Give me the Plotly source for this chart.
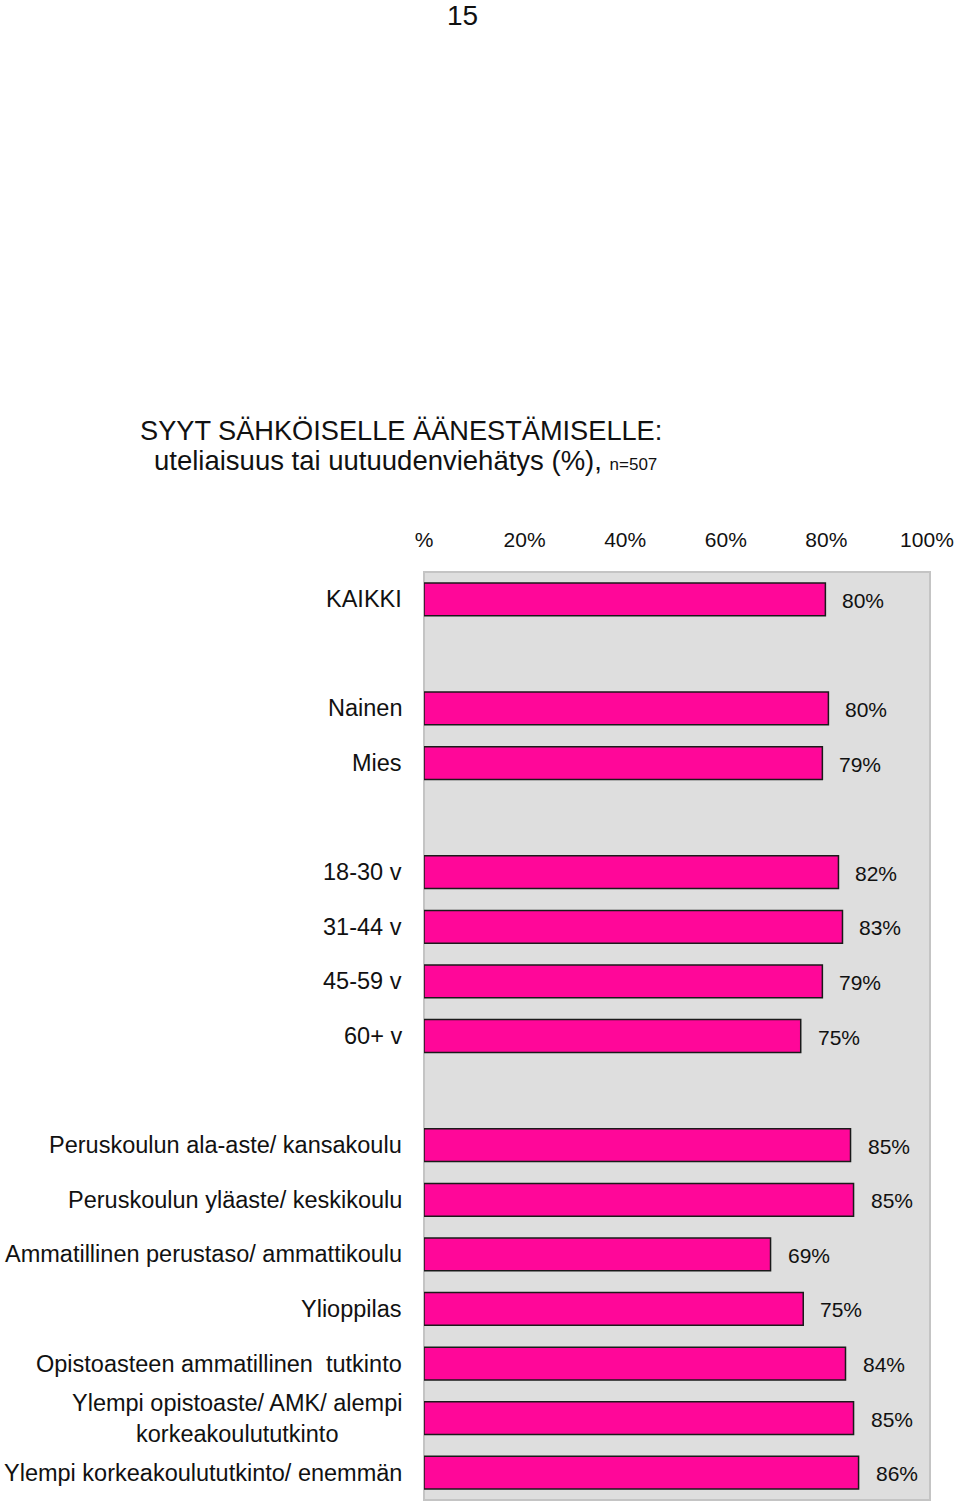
import plotly.graph_objects as go

categories = ["KAIKKI", "Nainen", "Mies", "18-30 v", "31-44 v", "45-59 v", "60+ v",
              "Peruskoulun ala-aste/ kansakoulu", "Peruskoulun yläaste/ keskikoulu",
              "Ammatillinen perustaso/ ammattikoulu", "Ylioppilas",
              "Opistoasteen ammatillinen  tutkinto",
              "Ylempi opistoaste/ AMK/ alempi<br>korkeakoulututkinto",
              "Ylempi korkeakoulututkinto/ enemmän"]
slots = [0, 2, 3, 5, 6, 7, 8, 10, 11, 12, 13, 14, 15, 16]
values = [79.8, 80.4, 79.2, 82.4, 83.2, 79.2, 74.9, 84.8, 85.4, 68.9, 75.4, 83.8, 85.4, 86.4]
tick_vals = [0, 20, 40, 60, 80, 100]
tick_text = ["%", "20%", "40%", "60%", "80%", "100%"]

FONT = "Liberation Sans, Arial, sans-serif"
W, H = 960, 1501
ML, MR, MT, MB = 424, 30, 572, 1
PW, PH = W - ML - MR, H - MT - MB

def px(x):
    return (x - ML) / PW

def py(y):
    return (H - MB - y) / PH

fig = go.Figure()
fig.add_trace(go.Bar(
    x=values, y=slots, orientation="h", width=0.6,
    marker=dict(color="#ff0799", line=dict(color="#1a1a1a", width=1.5)),
    hoverinfo="skip"))

ann = []
for c, s, v in zip(categories, slots, values):
    ann.append(dict(x=px(404), y=s, xref="paper", yref="y", text=c, showarrow=False,
                    xanchor="right", yanchor="middle", align="center",
                    font=dict(size=23.5, color="#111", family=FONT)))
    ann.append(dict(x=v, y=s, xref="x", yref="y", text=f"{round(v)}%", showarrow=False,
                    xanchor="left", yanchor="middle", xshift=15, yshift=-1,
                    font=dict(size=21, color="#111", family=FONT)))

ann.append(dict(x=px(462), y=py(15), xref="paper", yref="paper", text="15", showarrow=False,
                xanchor="center", yanchor="middle", font=dict(size=28, color="#111", family=FONT)))
ann.append(dict(x=px(401), y=py(430), xref="paper", yref="paper",
                text="SYYT SÄHKÖISELLE ÄÄNESTÄMISELLE:", showarrow=False,
                xanchor="center", yanchor="middle", font=dict(size=27.2, color="#111", family=FONT)))
ann.append(dict(x=px(405), y=py(461), xref="paper", yref="paper",
                text="uteliaisuus tai uutuudenviehätys (%), <span style='font-size:17px'>n=507</span>",
                showarrow=False, xanchor="center", yanchor="middle",
                font=dict(size=27.5, color="#111", family=FONT)))

fig.update_layout(
    width=W, height=H, margin=dict(l=ML, r=MR, t=MT, b=MB),
    paper_bgcolor="white", plot_bgcolor="#dedede",
    showlegend=False, bargap=0.4,
    annotations=ann,
    shapes=[dict(type="rect", xref="paper", yref="paper", x0=0, x1=1, y0=0, y1=1,
                 line=dict(color="#c4c4c4", width=2), layer="below")],
    xaxis=dict(range=[0, 100.6], side="top", tickvals=tick_vals, ticktext=tick_text,
               showgrid=False, zeroline=False, showline=False, ticks="",
               ticklabelstandoff=20,
               tickfont=dict(size=21, color="#111", family=FONT), fixedrange=True),
    yaxis=dict(range=[16.5, -0.5], showticklabels=False, showgrid=False,
               zeroline=False, showline=False, ticks="", fixedrange=True),
)

fig.write_html("out.html")
